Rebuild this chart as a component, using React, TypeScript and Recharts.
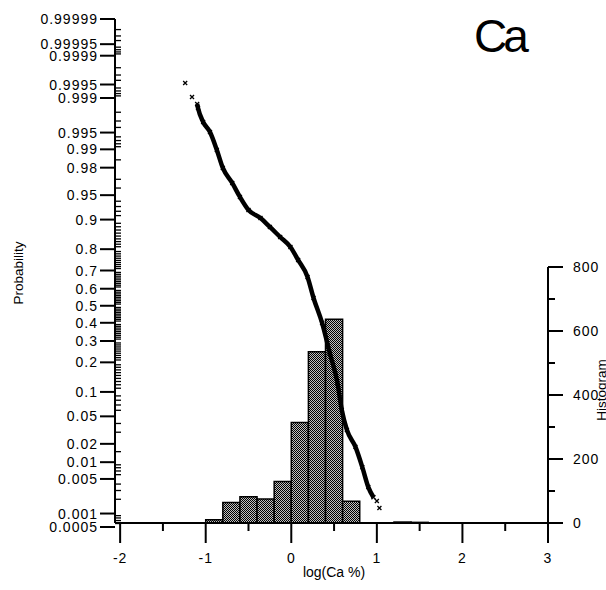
import React from 'react';
import { ComposedChart, XAxis, YAxis, Scatter, ReferenceArea, ReferenceLine } from 'recharts';

const FONT = '"Liberation Sans", Arial, Helvetica, sans-serif';

// Sorted sample: log(Ca %) against probability of exceedance
const curveLogCa = [-1.1, -1.09, -1.03, -0.95, -0.87, -0.8, -0.69, -0.6, -0.5, -0.36, -0.25, -0.13, -0.01, 0.08, 0.19, 0.26, 0.36, 0.45, 0.54, 0.59, 0.65, 0.75, 0.83, 0.9, 0.96];
const curveProb = [0.99865, 0.99836, 0.99686, 0.99512, 0.98975, 0.9798, 0.9661, 0.9472, 0.9228, 0.904, 0.8794, 0.8468, 0.809, 0.752, 0.666, 0.546, 0.399, 0.241, 0.1255, 0.0606, 0.0324, 0.0179, 0.0082, 0.0035, 0.0022];

// Isolated samples at both ends of the distribution
const tailLogCa = [-1.24, -1.16, 1.0, 1.03];
const tailProb = [0.99954, 0.99905, 0.00185, 0.00131];

// Histogram of log(Ca %), 0.2-wide bins
const binStart = [-1.0, -0.8, -0.6, -0.4, -0.2, 0.0, 0.2, 0.4, 0.6, 1.2, 1.4];
const binCount = [10, 64, 82, 75, 130, 314, 535, 637, 68, 3, 2];
const BIN_WIDTH = 0.2;

// Probability axis labels
const probTickLabels = ['0.0005', '0.001', '0.005', '0.01', '0.02', '0.05', '0.1', '0.2', '0.3', '0.4', '0.5', '0.6', '0.7', '0.8', '0.9', '0.95', '0.98', '0.99', '0.995', '0.999', '0.9995', '0.9999', '0.99995', '0.99999'];

// Unlabelled probability graduations
const hundredths = Array.from({ length: 79 }, (_, i) => (i + 11) / 100).filter((p) => Math.round(p * 100) % 10 !== 0);
const minorProbs = [
  0.0006, 0.0007, 0.0008, 0.0009, 0.002, 0.003, 0.004, 0.006, 0.007, 0.008, 0.009,
  0.015, 0.03, 0.04, 0.06, 0.07, 0.08, 0.09,
  ...hundredths,
  0.91, 0.92, 0.93, 0.94, 0.96, 0.97, 0.985,
  0.991, 0.992, 0.993, 0.994, 0.996, 0.997, 0.998,
  0.9991, 0.9992, 0.9993, 0.9994, 0.9996, 0.9997, 0.9998,
  0.99991, 0.99992, 0.99993, 0.99994, 0.99996, 0.99997, 0.99998,
];

const xTicks = [-2, -1.5, -1, -0.5, 0, 0.5, 1, 1.5, 2, 2.5, 3];
const xTickLabels: Record<string, string> = { '-2': '-2', '-1': '-1', '0': '0', '1': '1', '2': '2', '3': '3' };
const histTicks = [0, 100, 200, 300, 400, 500, 600, 700, 800];
const histTickLabels: Record<string, string> = { '0': '0', '200': '200', '400': '400', '600': '600', '800': '800' };

const X_DOMAIN: [number, number] = [-2.06, 3];
const HIST_DOMAIN: [number, number] = [0, 1575];

// Inverse standard normal CDF (Acklam), used for the normal-probability axis
function probit(p: number): number {
  const a = [-39.69683028665376, 220.9460984245205, -275.9285104469687, 138.357751867269, -30.66479806614716, 2.506628277459239];
  const b = [-54.47609879822406, 161.5858368580409, -155.6989798598866, 66.80131188771972, -13.28068155922803];
  const c = [-0.007784894002430293, -0.3223964580411365, -2.400758277161838, -2.549671010115819, 4.374664141464968, 2.938163982698783];
  const d = [0.007784695709041462, 0.3224671290700398, 2.445134137142996, 3.754408661907416];
  const pl = 0.02425;
  if (p < pl) {
    const q = Math.sqrt(-2 * Math.log(p));
    return (((((c[0] * q + c[1]) * q + c[2]) * q + c[3]) * q + c[4]) * q + c[5]) / ((((d[0] * q + d[1]) * q + d[2]) * q + d[3]) * q + 1);
  }
  if (p > 1 - pl) {
    const q = Math.sqrt(-2 * Math.log(1 - p));
    return -(((((c[0] * q + c[1]) * q + c[2]) * q + c[3]) * q + c[4]) * q + c[5]) / ((((d[0] * q + d[1]) * q + d[2]) * q + d[3]) * q + 1);
  }
  const q = p - 0.5;
  const r = q * q;
  return ((((((a[0] * r + a[1]) * r + a[2]) * r + a[3]) * r + a[4]) * r + a[5]) * q) / (((((b[0] * r + b[1]) * r + b[2]) * r + b[3]) * r + b[4]) * r + 1);
}

const Z_DOMAIN: [number, number] = [-3.231, probit(0.99999)];

const majorProbs = probTickLabels.map(Number);
const labelByZ = new Map<number, string>(majorProbs.map((p, i) => [probit(p), probTickLabels[i]]));
const zTicks = [...majorProbs, ...minorProbs].map(probit);

const curveData = curveLogCa.map((x, i) => ({ x, z: probit(curveProb[i]) }));
const tailData = tailLogCa.map((x, i) => ({ x, z: probit(tailProb[i]) }));
const bins = binStart.map((x0, i) => ({ x0, x1: x0 + BIN_WIDTH, count: binCount[i] }));

const textStyle = { fontFamily: FONT, fill: '#000' };

function ProbTick(props: any) {
  const { x, y, payload } = props;
  const label = labelByZ.get(payload.value);
  if (label === undefined) {
    return <line x1={x} x2={x + 6} y1={y} y2={y} stroke="#000" strokeWidth={1.3} />;
  }
  return (
    <g>
      <line x1={x - 15} x2={x} y1={y} y2={y} stroke="#000" strokeWidth={2} />
      <text x={x - 17} y={y} dy="0.36em" textAnchor="end" fontSize={14} letterSpacing={1} {...textStyle}>
        {label}
      </text>
    </g>
  );
}

function HistTick(props: any) {
  const { x, y, payload } = props;
  const label = histTickLabels[String(payload.value)];
  if (label === undefined) {
    return <line x1={x} x2={x + 7} y1={y} y2={y} stroke="#000" strokeWidth={2} />;
  }
  return (
    <g>
      <line x1={x} x2={x + 15} y1={y} y2={y} stroke="#000" strokeWidth={2} />
      <text x={x + 25} y={y} dy="0.36em" textAnchor="start" fontSize={14} letterSpacing={1} {...textStyle}>
        {label}
      </text>
    </g>
  );
}

function LogTick(props: any) {
  const { x, y, payload } = props;
  const label = xTickLabels[String(payload.value)];
  if (label === undefined) {
    return <line x1={x} x2={x} y1={y} y2={y + 8} stroke="#000" strokeWidth={2} />;
  }
  return (
    <g>
      <line x1={x} x2={x} y1={y} y2={y + 20} stroke="#000" strokeWidth={2} />
      <text x={x} y={y + 40} textAnchor="middle" fontSize={14} letterSpacing={1} {...textStyle}>
        {label}
      </text>
    </g>
  );
}

function Cross(props: any) {
  const { cx, cy } = props;
  if (cx == null || cy == null) return <g />;
  const s = 2;
  return (
    <path
      d={`M${cx - s},${cy - s}L${cx + s},${cy + s}M${cx - s},${cy + s}L${cx + s},${cy - s}`}
      stroke="#000"
      strokeWidth={1.3}
      fill="none"
    />
  );
}

export default function App() {
  return (
    <div style={{ position: 'absolute', left: 0, top: 0, width: 606, height: 590, background: '#fff', overflow: 'hidden' }}>
      <ComposedChart width={606} height={590} margin={{ top: 19, right: 0, bottom: 0, left: 0 }}>
        <defs>
          <pattern id="stipple" width={2} height={2} patternUnits="userSpaceOnUse">
            <rect width={2} height={2} fill="#c0c0c0" />
            <rect x={0} y={0} width={1} height={1} fill="#000" />
            <rect x={1} y={1} width={1} height={1} fill="#000" />
          </pattern>
        </defs>
        <XAxis
          xAxisId="log"
          type="number"
          dataKey="x"
          domain={X_DOMAIN}
          allowDataOverflow
          ticks={xTicks}
          interval={0}
          tickSize={0}
          tickMargin={0}
          tickLine={false}
          tick={<LogTick />}
          height={67}
          axisLine={{ stroke: '#000', strokeWidth: 2 }}
        />
        <YAxis
          yAxisId="prob"
          type="number"
          dataKey="z"
          domain={Z_DOMAIN}
          allowDataOverflow
          ticks={zTicks}
          interval={0}
          tickSize={0}
          tickMargin={0}
          tickLine={false}
          tick={<ProbTick />}
          width={115}
          axisLine={{ stroke: '#000', strokeWidth: 2 }}
        />
        <YAxis
          yAxisId="hist"
          orientation="right"
          type="number"
          domain={HIST_DOMAIN}
          allowDataOverflow
          ticks={histTicks}
          interval={0}
          tickSize={0}
          tickMargin={0}
          tickLine={false}
          tick={<HistTick />}
          width={58}
          axisLine={false}
        />
        {bins.map((b) => (
          <ReferenceArea
            key={b.x0}
            xAxisId="log"
            yAxisId="hist"
            x1={b.x0}
            x2={b.x1}
            y1={0}
            y2={b.count}
            fill="url(#stipple)"
            fillOpacity={1}
            stroke="#000"
            strokeWidth={1.5}
            ifOverflow="visible"
          />
        ))}
        <ReferenceLine
          xAxisId="log"
          yAxisId="hist"
          segment={[{ x: 3, y: 0 }, { x: 3, y: 800 }]}
          stroke="#000"
          strokeWidth={2}
          ifOverflow="visible"
        />
        <Scatter
          xAxisId="log"
          yAxisId="prob"
          data={curveData}
          line={{ stroke: '#000', strokeWidth: 4.5 }}
          lineJointType="monotoneX"
          shape={<Cross />}
          isAnimationActive={false}
        />
        <Scatter
          xAxisId="log"
          yAxisId="prob"
          data={tailData}
          shape={<Cross />}
          isAnimationActive={false}
        />
      </ComposedChart>
      <svg width={606} height={590} style={{ position: 'absolute', left: 0, top: 0, pointerEvents: 'none' }}>
        <text x={474} y={52} fontSize={46} letterSpacing={-4} {...textStyle}>
          Ca
        </text>
        <text x={23} y={273} fontSize={13.5} textAnchor="middle" transform="rotate(-90 23 273)" {...textStyle}>
          Probability
        </text>
        <text x={606} y={390} fontSize={13.5} textAnchor="middle" transform="rotate(-90 606 390)" {...textStyle}>
          Histogram
        </text>
        <text x={334} y={577} fontSize={14} textAnchor="middle" {...textStyle}>
          log(Ca %)
        </text>
      </svg>
    </div>
  );
}
